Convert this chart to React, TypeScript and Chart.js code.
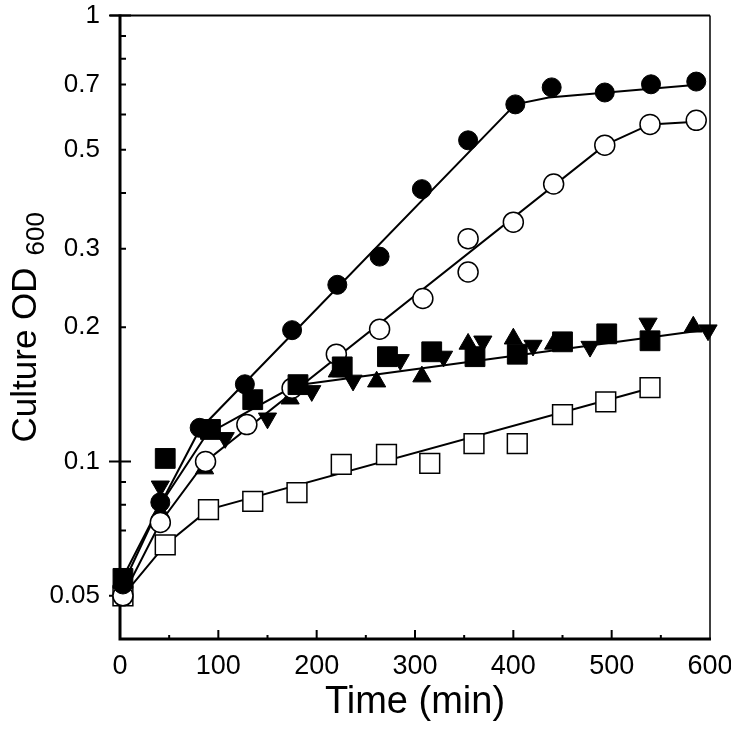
import { useEffect, useRef } from 'react';
import { Chart, registerables } from 'chart.js';

Chart.register(...registerables);

// ---- data (time in min, culture OD600) ----
const filledCircleT = [3, 41, 81, 127, 175, 221, 264, 307, 354, 402, 439, 493, 540, 586];
const filledCircleOD = [0.053, 0.081, 0.119, 0.149, 0.197, 0.249, 0.288, 0.408, 0.525, 0.632, 0.69, 0.672, 0.701, 0.711];

const openCircleT = [3, 41, 87, 129, 175, 220, 264, 308, 354, 354, 400, 441, 493, 539, 586];
const openCircleOD = [0.05, 0.073, 0.1, 0.121, 0.146, 0.174, 0.198, 0.232, 0.316, 0.266, 0.344, 0.419, 0.512, 0.57, 0.582];

const openSquareT = [3, 46, 90, 135, 180, 225, 271, 315, 360, 404, 450, 494, 539];
const openSquareOD = [0.05, 0.065, 0.078, 0.0814, 0.0852, 0.0985, 0.1037, 0.099, 0.1097, 0.1097, 0.1274, 0.136, 0.1464];

const filledSquareT = [3, 46, 92, 135, 181, 226, 272, 317, 361, 404, 450, 495, 539];
const filledSquareOD = [0.0547, 0.1016, 0.118, 0.1376, 0.1487, 0.163, 0.1718, 0.1762, 0.1718, 0.174, 0.1855, 0.1933, 0.1865];

const upTriangleT = [3, 41, 86, 173, 221, 261, 307, 354, 400, 441, 583];
const upTriangleOD = [0.054, 0.077, 0.0964, 0.1383, 0.159, 0.151, 0.155, 0.1835, 0.1885, 0.1835, 0.2005];

const downTriangleT = [3, 41, 107, 150, 195, 237, 285, 329, 369, 420, 478, 537, 598];
const downTriangleOD = [0.054, 0.088, 0.113, 0.125, 0.144, 0.152, 0.169, 0.172, 0.186, 0.182, 0.181, 0.204, 0.197];

// fitted curves
const filledCircleFitT = [3, 41, 81, 402, 436, 590];
const filledCircleFitOD = [0.053, 0.08, 0.118, 0.632, 0.655, 0.7];
const openCircleFitT = [3, 41, 87, 493, 539, 586];
const openCircleFitOD = [0.05, 0.073, 0.1, 0.512, 0.57, 0.578];
const openSquareFitT = [3, 46, 90, 539];
const openSquareFitOD = [0.05, 0.065, 0.078, 0.146];
const groupFitT = [3, 41, 88, 178, 600];
const groupFitOD = [0.055, 0.08, 0.115, 0.148, 0.198];

// axes
const yTickValues = [0.05, 0.1, 0.2, 0.3, 0.5, 0.7, 1];
const yTickLabels = ['0.05', '0.1', '0.2', '0.3', '0.5', '0.7', '1'];
const yMinorValues = [0.07, 0.08, 0.09, 0.2, 0.3, 0.4, 0.5, 0.6, 0.7, 0.8, 0.9];
const yDecadeValues = [0.1, 1];
const yOuterValues = [0.05];
const xTickValues = [0, 100, 200, 300, 400, 500, 600];
const xMinorValues = [50, 150, 250, 350, 450, 550];
const xMajorInner = [100, 200, 300, 400, 500];

const FONT = '"Liberation Sans", Arial, Helvetica, sans-serif';

const pts = (t: number[], v: number[]) => t.map((x, i) => ({ x, y: v[i] }));

export default function App() {
  const ref = useRef<HTMLCanvasElement>(null);

  useEffect(() => {
    const framePlugin = {
      id: 'frame',
      beforeDatasetsDraw(chart: any) {
        const { ctx, chartArea: a, scales } = chart;
        const xs = scales.x;
        const ys = scales.y;
        ctx.save();
        ctx.strokeStyle = '#000';
        ctx.lineCap = 'butt';
        ctx.lineWidth = 2;
        ctx.beginPath();
        ctx.moveTo(a.left - 10, a.top);
        ctx.lineTo(a.right, a.top);
        ctx.stroke();
        ctx.lineWidth = 1.5;
        ctx.beginPath();
        ctx.moveTo(a.right, a.top);
        ctx.lineTo(a.right, a.bottom);
        ctx.stroke();
        ctx.lineWidth = 3;
        ctx.beginPath();
        ctx.moveTo(a.left, a.top - 1);
        ctx.lineTo(a.left, a.bottom);
        ctx.lineTo(a.right + 1, a.bottom);
        ctx.stroke();
        ctx.lineWidth = 2;
        ctx.beginPath();
        yMinorValues.forEach((v) => {
          const p = ys.getPixelForValue(v);
          ctx.moveTo(a.left, p);
          ctx.lineTo(a.left + 6, p);
        });
        yDecadeValues.forEach((v) => {
          const p = ys.getPixelForValue(v);
          ctx.moveTo(a.left - 11, p);
          ctx.lineTo(a.left + 11, p);
        });
        yOuterValues.forEach((v) => {
          const p = ys.getPixelForValue(v);
          ctx.moveTo(a.left - 11, p);
          ctx.lineTo(a.left, p);
        });
        xMajorInner.forEach((v) => {
          const p = xs.getPixelForValue(v);
          ctx.moveTo(p, a.bottom);
          ctx.lineTo(p, a.bottom - 9);
        });
        xMinorValues.forEach((v) => {
          const p = xs.getPixelForValue(v);
          ctx.moveTo(p, a.bottom);
          ctx.lineTo(p, a.bottom - 4);
        });
        ctx.stroke();
        ctx.restore();
      },
      afterDraw(chart: any) {
        const { ctx, chartArea: a } = chart;
        ctx.save();
        const main = 'Culture OD';
        const sub = '600';
        const mainFont = `35px ${FONT}`;
        const subFont = `26px ${FONT}`;
        ctx.font = mainFont;
        const mw = ctx.measureText(main).width;
        ctx.font = subFont;
        const sw = ctx.measureText(sub).width;
        const gap = 12;
        const total = mw + gap + sw;
        const cy = (a.top + a.bottom) / 2;
        ctx.translate(36, cy);
        ctx.rotate(-Math.PI / 2);
        ctx.fillStyle = '#000';
        ctx.textBaseline = 'alphabetic';
        ctx.textAlign = 'left';
        ctx.font = mainFont;
        ctx.fillText(main, -total / 2, 0);
        ctx.font = subFont;
        ctx.fillText(sub, -total / 2 + mw + gap, 8);
        ctx.restore();
      },
    };

    const lineDs = (t: number[], v: number[]) => ({
      data: pts(t, v),
      showLine: true,
      borderColor: '#000',
      borderWidth: 2,
      pointRadius: 0,
      fill: false,
      order: 100,
      clip: false as const,
    });

    const markerDs = (
      t: number[],
      v: number[],
      style: string,
      radius: number,
      fill: string,
      order: number,
      rotation = 0,
      bw = 1
    ) => ({
      data: pts(t, v),
      showLine: false,
      pointStyle: style,
      pointRadius: radius,
      pointRotation: rotation,
      pointBackgroundColor: fill,
      pointBorderColor: '#000',
      pointBorderWidth: bw,
      order,
      clip: false as const,
    });

    const chart = new Chart(ref.current as HTMLCanvasElement, {
      type: 'scatter',
      data: {
        datasets: [
          lineDs(filledCircleFitT, filledCircleFitOD),
          lineDs(openCircleFitT, openCircleFitOD),
          lineDs(openSquareFitT, openSquareFitOD),
          lineDs(groupFitT, groupFitOD),
          markerDs(openSquareT, openSquareOD, 'rect', 14, '#fff', 6, 0, 1.5),
          markerDs(upTriangleT, upTriangleOD, 'triangle', 10.5, '#000', 5),
          markerDs(openCircleT, openCircleOD, 'circle', 10, '#fff', 4, 0, 1.5),
          markerDs(filledCircleT, filledCircleOD, 'circle', 9.5, '#000', 3),
          markerDs(downTriangleT, downTriangleOD, 'triangle', 10.5, '#000', 2, 180),
          markerDs(filledSquareT, filledSquareOD, 'rect', 14, '#000', 1),
        ] as any,
      },
      options: {
        animation: false,
        responsive: false,
        devicePixelRatio: 1,
        layout: { padding: { top: 13, right: 21, left: 0, bottom: 0 } },
        plugins: {
          legend: { display: false },
          tooltip: { enabled: false },
        },
        events: [],
        scales: {
          x: {
            type: 'linear',
            min: 0,
            max: 600,
            grid: { display: false, drawTicks: false },
            border: { display: false },
            afterBuildTicks: (s: any) => {
              s.ticks = xTickValues.map((v) => ({ value: v }));
            },
            afterFit: (s: any) => {
              s.height = 96;
              s.paddingLeft = 0;
              s.paddingRight = 0;
            },
            ticks: {
              autoSkip: false,
              maxRotation: 0,
              minRotation: 0,
              padding: 11,
              color: '#000',
              font: { family: FONT, size: 27 },
              callback: (v: any) => String(v),
            },
            title: {
              display: true,
              text: 'Time (min)',
              color: '#000',
              font: { family: FONT, size: 38, lineHeight: 1 },
              padding: { top: 0, bottom: 13 },
            },
          },
          y: {
            type: 'logarithmic',
            min: 0.04,
            max: 1,
            grid: { display: false, drawTicks: false },
            border: { display: false },
            afterBuildTicks: (s: any) => {
              s.ticks = yTickValues.map((v) => ({ value: v }));
            },
            afterFit: (s: any) => {
              s.width = 120;
              s.paddingTop = 0;
              s.paddingBottom = 0;
            },
            ticks: {
              autoSkip: false,
              padding: 20,
              color: '#000',
              font: { family: FONT, size: 26 },
              callback: (v: any) => {
                const i = yTickValues.indexOf(Number(v));
                return i >= 0 ? yTickLabels[i] : '';
              },
            },
          },
        },
      } as any,
      plugins: [framePlugin],
    });
    return () => chart.destroy();
  }, []);

  return (
    <div style={{ position: 'absolute', left: 0, top: 0, width: 731, height: 735, background: '#fff' }}>
      <canvas ref={ref} width={731} height={735} style={{ display: 'block', width: 731, height: 735 }} />
    </div>
  );
}
